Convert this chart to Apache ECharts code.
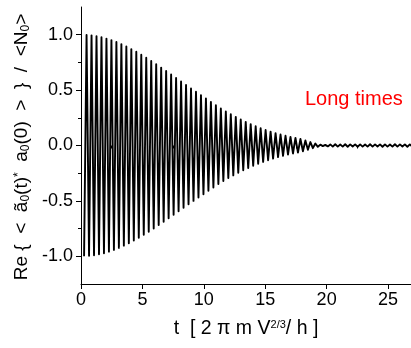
<!DOCTYPE html>
<html><head><meta charset="utf-8">
<script src="https://cdn.jsdelivr.net/npm/echarts@6/dist/echarts.min.js"></script>
<style>html,body{margin:0;padding:0;background:#fff}#c{width:411px;height:348px}</style>
</head><body><div id="c"></div>
<script>
// sampling of the curve at its successive extrema (half-period steps)
const tStart = 0.25;
const tStep = 0.2025;
// signed extremum values
const values = [
 -1.000, 0.998,-0.996, 0.994,-0.991, 0.987,-0.982, 0.977,-0.972, 0.965,
 -0.958, 0.951,-0.942, 0.934,-0.924, 0.915,-0.904, 0.893,-0.882, 0.870,
 -0.858, 0.846,-0.833, 0.820,-0.806, 0.792,-0.778, 0.763,-0.749, 0.734,
 -0.718, 0.703,-0.688, 0.672,-0.657, 0.641,-0.625, 0.609,-0.594, 0.578,
 -0.562, 0.546,-0.531, 0.515,-0.500, 0.485,-0.469, 0.455,-0.440, 0.425,
 -0.409, 0.394,-0.379, 0.363,-0.348, 0.334,-0.321, 0.307,-0.294, 0.282,
 -0.270, 0.258,-0.246, 0.235,-0.224, 0.213,-0.203, 0.193,-0.183, 0.174,
 -0.165, 0.156,-0.148, 0.140,-0.133, 0.125,-0.118, 0.112,-0.105, 0.099,
 -0.093, 0.088,-0.082, 0.077,-0.072, 0.068,-0.064, 0.059,-0.052, 0.045,
 -0.038, 0.031,-0.024, 0.018,-0.012, 0.008,-0.006, 0.006,-0.008, 0.010,
 -0.010, 0.011,-0.010, 0.009,-0.010, 0.011,-0.011, 0.010,-0.009, 0.010,
 -0.011, 0.010,-0.010, 0.009,-0.010, 0.011,-0.010, 0.010,-0.009, 0.010,
 -0.011, 0.010,-0.010, 0.009,-0.010, 0.011,-0.010, 0.010,-0.009, 0.010,
 -0.011, 0.010,-0.010
];
const xMajorTicks = [0, 5, 10, 15, 20, 25];
const xMinorTicks = [2.5, 7.5, 12.5, 17.5, 22.5];
const yMajorTicks = [-1, -0.5, 0, 0.5, 1];
const yMinorTicks = [-0.75, -0.25, 0.25, 0.75];
const xRange = [0, 26.87];
const yRange = [-1.25, 1.25];
const annotation = 'Long times';

const times = values.map((_, i) => +(tStart + i * tStep).toFixed(4));
const seriesData = values.map((v, i) => [times[i], v]);

const FONT = 'Liberation Sans, Arial, Helvetica, sans-serif';
const axisCommon = {
  axisLine: { show: true, onZero: false, lineStyle: { color: '#000', width: 1 } },
  splitLine: { show: false }
};

const chart = echarts.init(document.getElementById('c'), null, { renderer: 'canvas' });
chart.setOption({
  animation: false,
  backgroundColor: '#fff',
  grid: { left: 81, right: 0, top: 7, bottom: 64, containLabel: false },
  xAxis: [
    Object.assign({}, axisCommon, {
      type: 'value', position: 'bottom', min: xRange[0], max: xRange[1],
      axisTick: { show: true, inside: false, length: 5, customValues: xMajorTicks, lineStyle: { color: '#000' } },
      axisLabel: { show: true, customValues: xMajorTicks, margin: 7, color: '#000', fontSize: 18, fontFamily: FONT,
        formatter: v => String(v), showMaxLabel: true, showMinLabel: true }
    }),
    {
      type: 'value', position: 'bottom', min: xRange[0], max: xRange[1], offset: 0,
      axisLine: { show: false }, splitLine: { show: false }, axisLabel: { show: false },
      axisTick: { show: true, inside: false, length: 3, customValues: xMinorTicks, lineStyle: { color: '#000' } }
    }
  ],
  yAxis: [
    Object.assign({}, axisCommon, {
      type: 'value', position: 'left', min: yRange[0], max: yRange[1],
      axisTick: { show: true, inside: false, length: 5, customValues: yMajorTicks, lineStyle: { color: '#000' } },
      axisLabel: { show: true, customValues: yMajorTicks, margin: 8, color: '#000', fontSize: 18, fontFamily: FONT,
        formatter: v => v.toFixed(1) }
    }),
    {
      type: 'value', position: 'left', min: yRange[0], max: yRange[1], offset: 0,
      axisLine: { show: false }, splitLine: { show: false }, axisLabel: { show: false },
      axisTick: { show: true, inside: false, length: 3, customValues: yMinorTicks, lineStyle: { color: '#000' } }
    }
  ],
  series: [{
    type: 'line', xAxisIndex: 0, yAxisIndex: 0, data: seriesData,
    showSymbol: false, symbol: 'none', clip: true, smooth: false,
    lineStyle: { color: '#000', width: 1.9, join: 'round' }
  }],
  graphic: [
    {
      type: 'text', x: 305, y: 99, silent: true,
      style: { text: annotation, fill: '#ff0000', fontSize: 20, fontFamily: FONT, align: 'left', verticalAlign: 'middle' }
    },
    {
      type: 'text', x: 246, y: 329, silent: true,
      style: {
        text: 't  [ 2 \u03c0 m V{sup|2/3}/ h ]',
        fill: '#000', fontSize: 19.5, fontFamily: FONT, align: 'center', verticalAlign: 'middle',
        rich: {
          sup: { fontSize: 11, lineHeight: 11, verticalAlign: 'top', fontFamily: FONT, fill: '#000' }
        }
      }
    },
    {
      type: 'text', x: 22, y: 147, rotation: Math.PI / 2, silent: true,
      style: {
        text: 'Re {  <  \u00e3{sub|0}(t){sup|*}  a{sub|0}(0)  >  }  /  <N{sub|0}>',
        fill: '#000', fontSize: 19, fontFamily: FONT, align: 'center', verticalAlign: 'middle',
        rich: {
          sub: { fontSize: 12, lineHeight: 12, verticalAlign: 'bottom', fontFamily: FONT, fill: '#000' },
          sup: { fontSize: 12, lineHeight: 12, verticalAlign: 'top', fontFamily: FONT, fill: '#000' }
        }
      }
    }
  ]
});
</script>
</body></html>
